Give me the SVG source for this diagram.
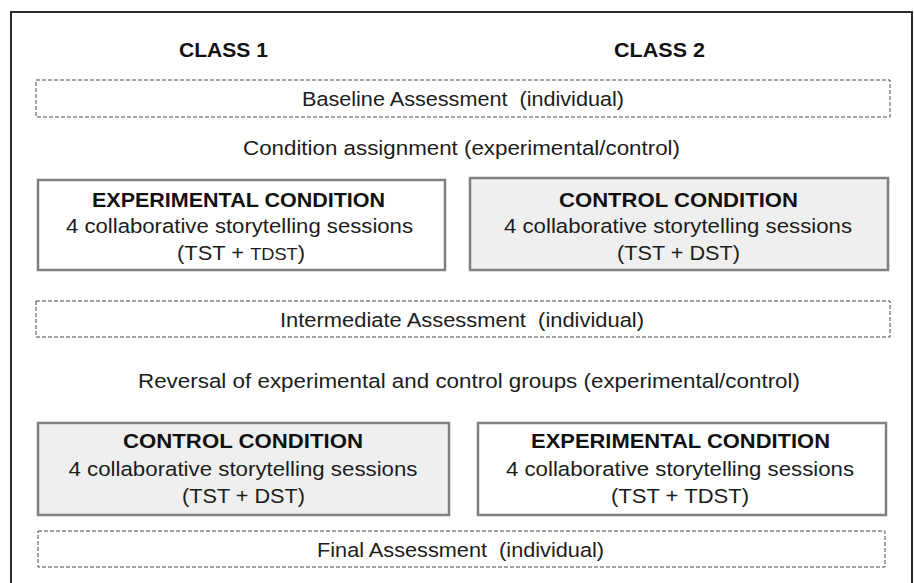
<svg xmlns="http://www.w3.org/2000/svg" width="914" height="583" viewBox="0 0 914 583">
<style>
  .t { font-family: "Liberation Sans", Arial, sans-serif; font-size: 20.5px; fill: #1c1c1c; text-anchor: middle; white-space: pre; }
  .b { font-weight: bold; font-size: 20px; fill: #111; }
  .dash { fill: #ffffff; stroke: #4a4a4a; stroke-width: 1; stroke-dasharray: 4 2; }
  .box { stroke: #808080; stroke-width: 2.5; }
  .white { fill: #ffffff; }
  .gray { fill: #efefef; }
</style>
<rect x="0" y="0" width="914" height="583" fill="#ffffff"/>
<g id="frame">
  <path d="M11 600 V12 H912 V600" fill="none" stroke="#2a2a2a" stroke-width="2"/>
</g>
<g id="class1"><text class="t b" x="223.5" y="57" textLength="89" lengthAdjust="spacingAndGlyphs">CLASS 1</text></g>
<g id="class2"><text class="t b" x="659.5" y="57" textLength="91" lengthAdjust="spacingAndGlyphs">CLASS 2</text></g>
<g id="baseline">
  <rect class="dash" x="36" y="80" width="854" height="37"/>
  <text class="t" x="463" y="106" textLength="322" lengthAdjust="spacingAndGlyphs">Baseline Assessment  (individual)</text>
</g>
<g id="assignment">
  <text class="t" x="461.5" y="155" textLength="437" lengthAdjust="spacingAndGlyphs">Condition assignment (experimental/control)</text>
</g>
<g id="exp1">
  <rect class="box white" x="38" y="180" width="407" height="90"/>
  <text class="t b" x="238.5" y="207" textLength="293" lengthAdjust="spacingAndGlyphs">EXPERIMENTAL CONDITION</text>
  <text class="t" x="239.5" y="233" textLength="347" lengthAdjust="spacingAndGlyphs">4 collaborative storytelling sessions</text>
  <text class="t" x="241" y="260" textLength="128" lengthAdjust="spacingAndGlyphs">(TST + <tspan font-size="17">TDST</tspan>)</text>
</g>
<g id="ctrl1">
  <rect class="box gray" x="470" y="178" width="418" height="92"/>
  <text class="t b" x="678.5" y="207" textLength="239" lengthAdjust="spacingAndGlyphs">CONTROL CONDITION</text>
  <text class="t" x="678" y="233" textLength="348" lengthAdjust="spacingAndGlyphs">4 collaborative storytelling sessions</text>
  <text class="t" x="678.5" y="260" textLength="123" lengthAdjust="spacingAndGlyphs">(TST + DST)</text>
</g>
<g id="intermediate">
  <rect class="dash" x="36" y="301" width="854" height="36"/>
  <text class="t" x="462" y="327" textLength="364" lengthAdjust="spacingAndGlyphs">Intermediate Assessment  (individual)</text>
</g>
<g id="reversal">
  <text class="t" x="469" y="388" textLength="662" lengthAdjust="spacingAndGlyphs">Reversal of experimental and control groups (experimental/control)</text>
</g>
<g id="ctrl2">
  <rect class="box gray" x="38" y="423" width="411" height="92"/>
  <text class="t b" x="243" y="448" textLength="240" lengthAdjust="spacingAndGlyphs">CONTROL CONDITION</text>
  <text class="t" x="243" y="476" textLength="349" lengthAdjust="spacingAndGlyphs">4 collaborative storytelling sessions</text>
  <text class="t" x="243.5" y="503" textLength="123" lengthAdjust="spacingAndGlyphs">(TST + DST)</text>
</g>
<g id="exp2">
  <rect class="box white" x="478" y="423" width="408" height="92"/>
  <text class="t b" x="680.5" y="448" textLength="299" lengthAdjust="spacingAndGlyphs">EXPERIMENTAL CONDITION</text>
  <text class="t" x="680" y="476" textLength="348" lengthAdjust="spacingAndGlyphs">4 collaborative storytelling sessions</text>
  <text class="t" x="680" y="503" textLength="138" lengthAdjust="spacingAndGlyphs">(TST + TDST)</text>
</g>
<g id="final">
  <rect class="dash" x="38" y="531" width="847" height="36"/>
  <text class="t" x="460.5" y="557" textLength="287" lengthAdjust="spacingAndGlyphs">Final Assessment  (individual)</text>
</g>
<g id="connectors"></g>
</svg>
